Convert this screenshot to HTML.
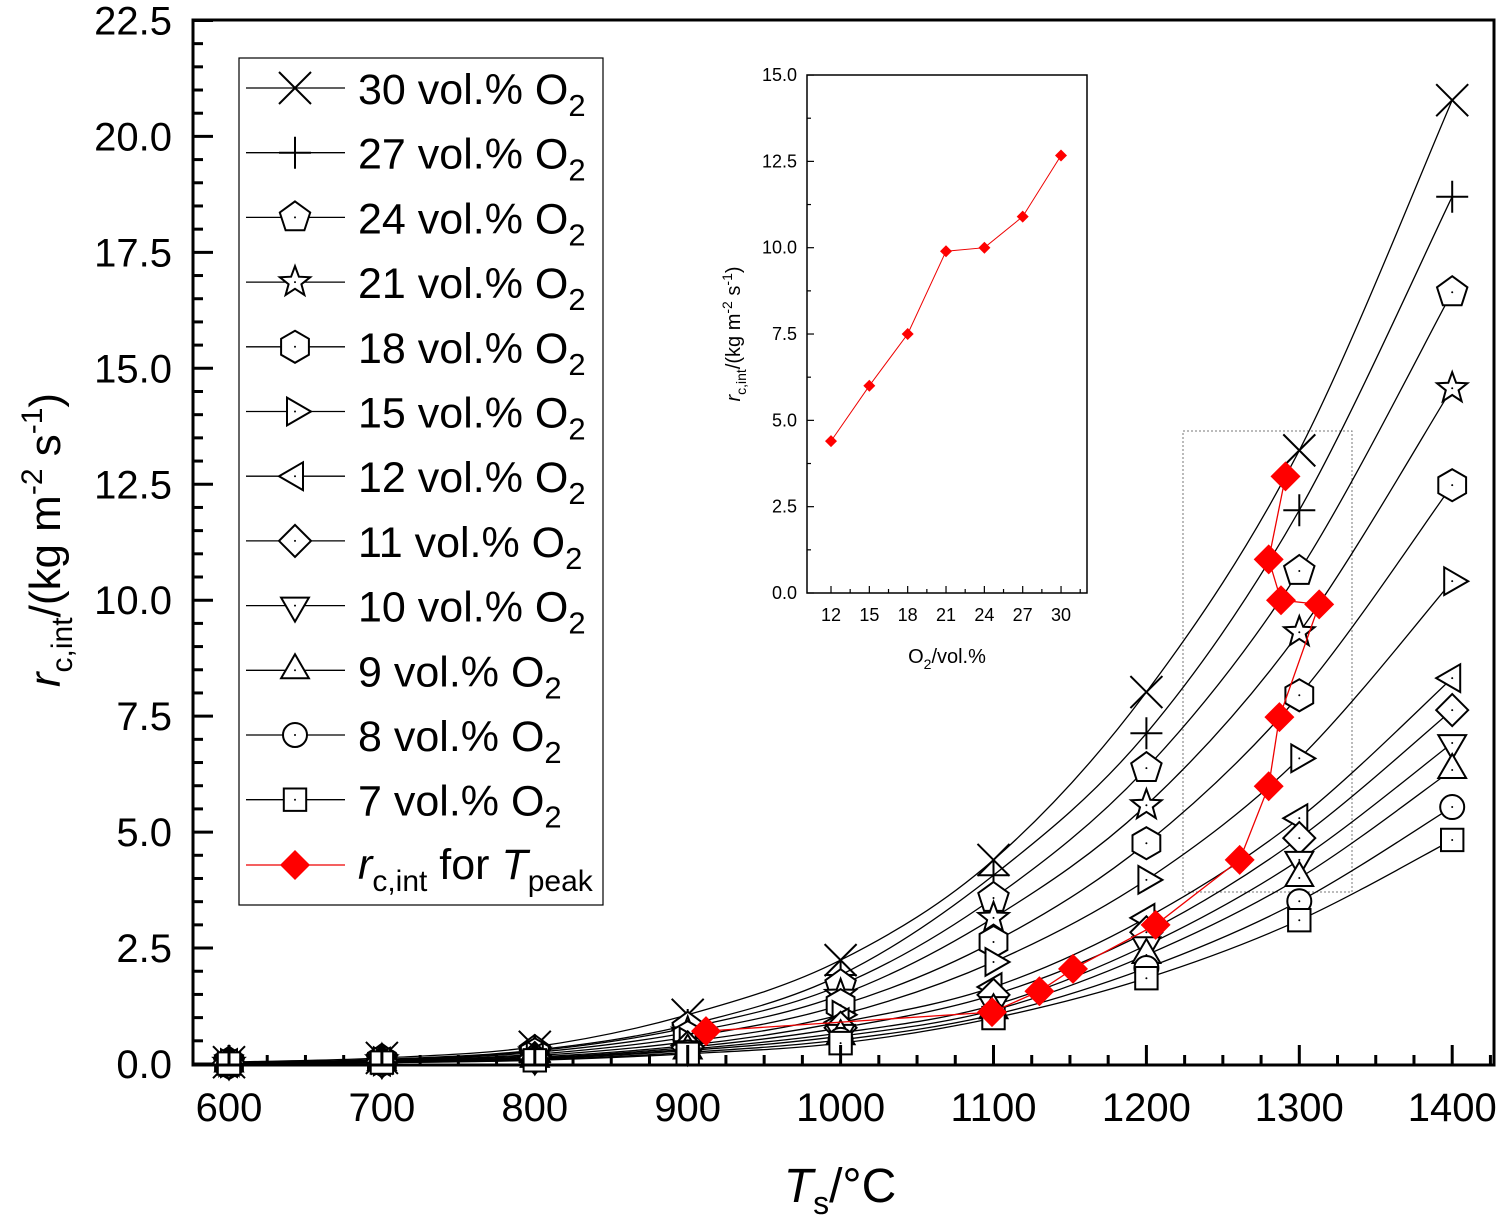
<!DOCTYPE html>
<html><head><meta charset="utf-8"><style>
body{margin:0;background:#fff;}
svg{display:block;font-family:"Liberation Sans",Arial,sans-serif;}
</style></head><body>
<svg id="chart" width="1500" height="1221" viewBox="0 0 1500 1221" xmlns="http://www.w3.org/2000/svg">
<g id="main"></g>
</svg>
<script>
const temps=[600,700,800,900,1000,1100,1200,1300,1400];
const o2Labels=["30","27","24","21","18","15","12","11","10","9","8","7"];
const markers=["x","plus","pent","star","hex","tright","tleft","diam","tdown","tup","circ","sq"];
const s30=[0.04,0.13,0.37,1.06,2.24,4.40,8.02,13.23,20.78];
const s27=[0.03,0.10,0.30,0.84,1.92,4.07,7.13,11.94,18.70];
const s24=[0.03,0.09,0.28,0.78,1.70,3.58,6.38,10.63,16.64];
const s21=[0.03,0.08,0.25,0.68,1.49,3.15,5.58,9.31,14.57];
const s18=[0.02,0.07,0.21,0.58,1.27,2.63,4.76,7.95,12.48];
const s15=[0.02,0.06,0.18,0.48,1.06,2.20,3.97,6.59,10.41];
const s12=[0.02,0.05,0.15,0.40,0.90,1.66,3.15,5.30,8.32];
const s11=[0.02,0.05,0.13,0.36,0.78,1.49,2.84,4.87,7.63];
const s10=[0.01,0.04,0.12,0.32,0.67,1.27,2.56,4.40,6.92];
const s9=[0.01,0.04,0.11,0.29,0.60,1.16,2.35,4.01,6.34];
const s8=[0.01,0.03,0.09,0.25,0.52,1.06,2.07,3.51,5.54];
const s7=[0.01,0.03,0.08,0.22,0.45,0.99,1.85,3.10,4.83];
const series=[s30,s27,s24,s21,s18,s15,s12,s11,s10,s9,s8,s7];
const peakT=[912,1099,1130,1152,1206,1261,1280,1287,1313,1288,1280,1291];
const peakR=[0.71,1.12,1.57,2.05,3.00,4.40,5.99,7.48,9.91,10.00,10.88,12.67];
const insetO2=[12,15,18,21,24,27,30];
const insetR=[4.40,6.00,7.50,9.90,10.00,10.90,12.67];
const xTicks=[600,700,800,900,1000,1100,1200,1300,1400];
const yTicks=[0,2.5,5,7.5,10,12.5,15,17.5,20,22.5];
const insetXTicks=[12,15,18,21,24,27,30];
const insetYTicks=[0,2.5,5,7.5,10,12.5,15];

const NS="http://www.w3.org/2000/svg";
const root=document.getElementById('main');
function el(tag,attrs,parent){const e=document.createElementNS(NS,tag);for(const k in attrs)e.setAttribute(k,attrs[k]);(parent||root).appendChild(e);return e;}
const L=193,R=1494,T=20,B=1065;
const xS=t=>229+(t-600)*1.529;
const yS=v=>1064-v*46.38;

function markerPath(type,cx,cy,s){
  const r=s/2;
  const poly=(n,rot,rad)=>{let p=[];for(let i=0;i<n;i++){const a=rot+i*2*Math.PI/n;p.push((cx+rad*Math.cos(a)).toFixed(1)+","+(cy+rad*Math.sin(a)).toFixed(1));}return "M"+p.join("L")+"Z";};
  switch(type){
    case "x":return `M${cx-r},${cy-r}L${cx+r},${cy+r}M${cx-r},${cy+r}L${cx+r},${cy-r}`;
    case "plus":return `M${cx-r},${cy}L${cx+r},${cy}M${cx},${cy-r}L${cx},${cy+r}`;
    case "pent":return poly(5,-Math.PI/2,r);
    case "hex":return poly(6,-Math.PI/2,r);
    case "tright":return poly(3,0,r);
    case "tleft":return poly(3,Math.PI,r);
    case "tup":return poly(3,-Math.PI/2,r);
    case "tdown":return poly(3,Math.PI/2,r);
    case "diam":return poly(4,0,r);
    case "sq":return `M${cx-r*0.7},${cy-r*0.7}h${r*1.4}v${r*1.4}h${-r*1.4}Z`;
    case "star":{let p=[];for(let i=0;i<10;i++){const a=-Math.PI/2+i*Math.PI/5;const rr=i%2?r*0.42:r;p.push((cx+rr*Math.cos(a)).toFixed(1)+","+(cy+rr*Math.sin(a)).toFixed(1));}return "M"+p.join("L")+"Z";}
  }
  return "";
}
function drawMarker(type,cx,cy,s,parent,name){
  if(type==="circ"){const c=el('circle',{cx,cy,r:s/2*0.75,fill:'#fff',stroke:'#000','stroke-width':2},parent);}
  else{const open=(type==="x"||type==="plus");const p=el('path',{d:markerPath(type,cx,cy,s),fill:open?'none':'#fff',stroke:'#000','stroke-width':2},parent);}
  if(type!=="x"&&type!=="plus"){el('circle',{cx,cy,r:1,fill:'#000'},parent);}
}
function smooth(pts){
  let d=`M${pts[0][0]},${pts[0][1]}`;
  for(let i=0;i<pts.length-1;i++){
    const p0=pts[Math.max(i-1,0)],p1=pts[i],p2=pts[i+1],p3=pts[Math.min(i+2,pts.length-1)];
    const c1=[p1[0]+(p2[0]-p0[0])/6,p1[1]+(p2[1]-p0[1])/6],c2=[p2[0]-(p3[0]-p1[0])/6,p2[1]-(p3[1]-p1[1])/6];
    d+=`C${c1[0].toFixed(1)},${c1[1].toFixed(1)} ${c2[0].toFixed(1)},${c2[1].toFixed(1)} ${p2[0].toFixed(1)},${p2[1].toFixed(1)}`;
  }
  return d;
}

const zr=el('rect',{x:1183,y:431,width:169,height:461,fill:'none',stroke:'#777','stroke-width':1,'stroke-dasharray':'2,2'});



series.forEach((s,k)=>{
  const g=el('g',{});
  
  
  const pts=s.map((v,i)=>[xS(temps[i]),yS(v)]);
  el('path',{d:smooth(pts),fill:'none',stroke:'#000','stroke-width':1.3},g);
  pts.forEach(p=>drawMarker(markers[k],p[0],p[1],32,g,'marker-'+o2Labels[k]));
});
const pg=el('g',{});


const ppts=peakT.map((t,i)=>[xS(t),yS(peakR[i])]);
el('path',{d:"M"+ppts.map(p=>p[0].toFixed(1)+","+p[1].toFixed(1)).join("L"),fill:'none',stroke:'#e00','stroke-width':1.3},pg);
ppts.forEach(p=>{const m=el('path',{d:markerPath('diam',p[0],p[1],30),fill:'#f00',stroke:'none'},pg);});

const fr=el('rect',{x:L,y:T,width:R-L,height:B-T,fill:'none',stroke:'#000','stroke-width':3});


for(let t=600;t<=1425;t+=25){const x=xS(t);if(x<L||x>R)continue;const maj=t%100===0;el('line',{x1:x,x2:x,y1:B,y2:B-(maj?20:10),stroke:'#000','stroke-width':3});}
xTicks.forEach(t=>{const tx=el('text',{x:xS(t),y:1121,'font-size':40,'text-anchor':'middle'});tx.textContent=t;});
for(let v=0;v<=22.5;v+=0.5){const y=yS(v);const maj=Math.abs(v/2.5-Math.round(v/2.5))<1e-6;el('line',{x1:L,x2:L+(maj?20:10),y1:y,y2:y,stroke:'#000','stroke-width':3});}
yTicks.forEach(v=>{const tx=el('text',{x:172,y:yS(v)+14,'font-size':40,'text-anchor':'end'});tx.textContent=v.toFixed(1);});

const xt=el('text',{x:840,y:1202,'font-size':48,'text-anchor':'middle'});
xt.innerHTML='<tspan font-style="italic">T</tspan><tspan font-size="32" dy="12">s</tspan><tspan dy="-12">/°C</tspan>';

const yt=el('text',{x:0,y:0,'font-size':44,'text-anchor':'middle',transform:'translate(60,540) rotate(-90)'});
yt.innerHTML='<tspan font-style="italic">r</tspan><tspan font-size="30" dy="12">c,int</tspan><tspan dy="-12">/(kg m</tspan><tspan font-size="30" dy="-18">-2</tspan><tspan dy="18"> s</tspan><tspan font-size="30" dy="-18">-1</tspan><tspan dy="18">)</tspan>';


const lg=el('g',{});


el('rect',{x:239,y:58,width:364,height:847,fill:'#fff',stroke:'#000','stroke-width':1.2},lg);
o2Labels.forEach((lab,k)=>{
  const y=88+k*64.7;
  const e=el('g',{},lg);
  
  
  el('line',{x1:246,x2:345,y1:y,y2:y,stroke:'#000','stroke-width':1.3},e);
  drawMarker(markers[k],295,y,32,e,'legend-marker');
  const t=el('text',{x:358,y:y+16,'font-size':43},e);
  t.innerHTML=lab+' vol.% O<tspan font-size="31" dy="12">2</tspan>';
});
{const y=865;const e=el('g',{},lg);


el('line',{x1:246,x2:345,y1:y,y2:y,stroke:'#e00','stroke-width':1.3},e);
el('path',{d:markerPath('diam',295,y,30),fill:'#f00'},e);
const t=el('text',{x:358,y:y+14,'font-size':43},e);
t.innerHTML='<tspan font-style="italic">r</tspan><tspan font-size="30" dy="12">c,int</tspan><tspan dy="-12"> for </tspan><tspan font-style="italic">T</tspan><tspan font-size="30" dy="12">peak</tspan>';}

const IL=807,IR=1087,IT=75,IB=593;
const ixS=o=>831+(o-12)*12.78;
const iyS=v=>593-v*34.53;
const ig=el('g',{});


el('rect',{x:IL,y:IT,width:IR-IL,height:IB-IT,fill:'#fff',stroke:'#000','stroke-width':1.5},ig);
for(let o=12;o<=31.5;o+=1.5){const x=ixS(o);const maj=insetXTicks.includes(o);el('line',{x1:x,x2:x,y1:IB,y2:IB-(maj?7:4),stroke:'#000','stroke-width':1.2},ig);}
insetXTicks.forEach(o=>{const t=el('text',{x:ixS(o),y:621,'font-size':18,'text-anchor':'middle'},ig);t.textContent=o;});
for(let v=0;v<=15;v+=1.25){const y=iyS(v);const maj=Math.abs(v/2.5-Math.round(v/2.5))<1e-6;el('line',{x1:IL,x2:IL+(maj?7:4),y1:y,y2:y,stroke:'#000','stroke-width':1.2},ig);}
insetYTicks.forEach(v=>{const t=el('text',{x:797,y:iyS(v)+6,'font-size':18,'text-anchor':'end'},ig);t.textContent=v.toFixed(1);});
const ixt=el('text',{x:947,y:663,'font-size':20,'text-anchor':'middle'},ig);
ixt.innerHTML='O<tspan font-size="14" dy="6">2</tspan><tspan dy="-6">/vol.%</tspan>';

const iyt=el('text',{x:0,y:0,'font-size':20,'text-anchor':'middle',transform:'translate(740,334) rotate(-90)'},ig);
iyt.innerHTML='<tspan font-style="italic">r</tspan><tspan font-size="14" dy="6">c,int</tspan><tspan dy="-6">/(kg m</tspan><tspan font-size="14" dy="-8">-2</tspan><tspan dy="8"> s</tspan><tspan font-size="14" dy="-8">-1</tspan><tspan dy="8">)</tspan>';

const ipts=insetO2.map((o,i)=>[ixS(o),iyS(insetR[i])]);
el('path',{d:"M"+ipts.map(p=>p[0].toFixed(1)+","+p[1].toFixed(1)).join("L"),fill:'none',stroke:'#e00','stroke-width':1},ig);
ipts.forEach(p=>{const m=el('path',{d:markerPath('diam',p[0],p[1],12),fill:'#f00'},ig);});
</script>
</body></html>
